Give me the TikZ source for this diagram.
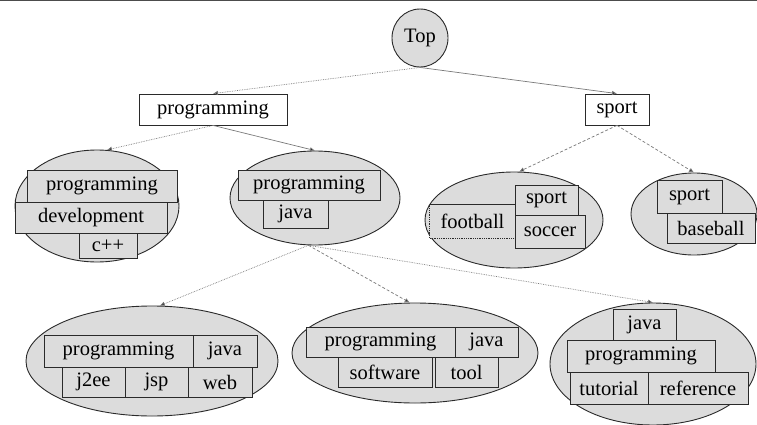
\documentclass[tikz,border=0pt]{standalone}
\usepackage{fontspec}
\setmainfont{Liberation Serif}
\usetikzlibrary{shapes.geometric,arrows.meta}
\definecolor{cfill}{HTML}{DCDCDC}
\definecolor{cline}{HTML}{2A2A2A}
\definecolor{cedge}{HTML}{7A7A7A}
\newcommand\tbx[6]{\node[tbox,minimum width={#4pt-#2pt},minimum height={#5pt-#3pt}] (#1) at ({(#2+#4)/2},{(#3+#5)/2}) {#6};}
\tikzset{
  tfont/.style={font=\fontsize{20.5}{22}\selectfont},
  tbox/.style={draw=cline,fill=cfill,line width=0.8pt,inner sep=0pt,tfont},
  wbox/.style={tbox,fill=white},
  ell/.style={ellipse,draw=cline,fill=cfill,line width=0.9pt,inner sep=0pt},
  edge/.style={draw=cedge,line width=0.7pt,-{Latex[length=5pt,width=4.5pt,fill=cline]}},
  dotedge/.style={edge,densely dotted},
  dashedge/.style={edge,dash pattern=on 3pt off 2pt}
}
\begin{document}
\begin{tikzpicture}[x=1pt,y=-1pt]
\useasboundingbox (0,0) rectangle (757,425);
\fill[white] (0,0) rectangle (757,425);
\draw[line width=2pt,draw=gray!60!black] (0,0) -- (757,0);
% top
\node[ell,minimum width=56pt,minimum height=58pt,tfont] (top) at (420,38) {Top};
\node[wbox,minimum width=148pt,minimum height=31pt] (prog) at (213,109.5) {programming};
\node[wbox,minimum width=64pt,minimum height=31pt] (sport) at (617,109.5) {sport};
% row 2 ellipses
\node[ell,minimum width=164pt,minimum height=112pt] (e1) at (97,206) {};
\node[ell,minimum width=170pt,minimum height=94pt] (e2) at (315,198) {};
\node[ell,minimum width=178pt,minimum height=96pt] (e3) at (514,220) {};
\node[ell,minimum width=126pt,minimum height=82pt] (e4) at (694,214) {};
% row 3 ellipses
\node[ell,minimum width=252pt,minimum height=110pt] (e5) at (152,361) {};
\node[ell,minimum width=246pt,minimum height=100pt] (e6) at (415,353) {};
\node[ell,minimum width=206pt,minimum height=122pt] (e7) at (653,364) {};
% boxes e1
\tbx{p1}{27}{170}{177}{202}{programming}
\tbx{d1}{15}{202}{167}{233}{development}
\tbx{c1}{79}{233}{137}{258}{c++}
% e2
\tbx{p2}{238}{170}{380}{200}{programming}
\tbx{j2}{263}{200}{328}{228}{java}
% e3
\tbx{s3}{515}{185}{578}{215}{sport}
\node[tbox,draw=none,minimum width=85pt,minimum height=33pt] (f3) at (472.5,221.5) {football};
\draw[cline,line width=0.8pt] (f3.north west) -- (f3.north east);
\draw[cline,line width=0.8pt,densely dotted] (f3.north west) -- (f3.south west) -- (f3.south east);
\tbx{sc3}{515}{215}{585}{248}{soccer}
% e4
\tbx{s4}{657}{180}{722}{213}{sport}
\tbx{b4}{667}{213}{755}{243}{baseball}
% e5
\tbx{p5}{44}{335}{193}{367}{programming}
\tbx{j5}{193}{335}{257}{367}{java}
\tbx{je5}{62}{367}{125}{397}{j2ee}
\tbx{jsp5}{125}{367}{188}{397}{jsp}
\tbx{w5}{188}{367}{252}{397}{web}
% e6
\tbx{p6}{306}{327}{455}{357}{programming}
\tbx{j6}{455}{327}{518}{357}{java}
\tbx{sw6}{338}{357}{432}{387}{software}
\tbx{t6}{435}{357}{498}{387}{tool}
% e7
\tbx{j7}{613}{309}{676}{340}{java}
\tbx{p7}{567}{340}{715}{372}{programming}
\tbx{tu7}{570}{372}{648}{404}{tutorial}
\tbx{r7}{648}{372}{748}{404}{reference}
% edges
\draw[dotedge] (top.south) -- (prog.north);
\draw[edge] (top.south) -- (sport.north);
\draw[dotedge] (prog.south) -- (e1.80);
\draw[edge] (prog.south) -- (e2.north);
\draw[dashedge] (sport.south) -- (e3.84);
\draw[dashedge] (sport.south) -- (e4.north);
\draw[dotedge] (e2.262) -- (e5.82);
\draw[dashedge] (e2.262) -- (e6.96);
\draw[dotedge] (e2.262) -- (e7.north);
\end{tikzpicture}
\end{document}
